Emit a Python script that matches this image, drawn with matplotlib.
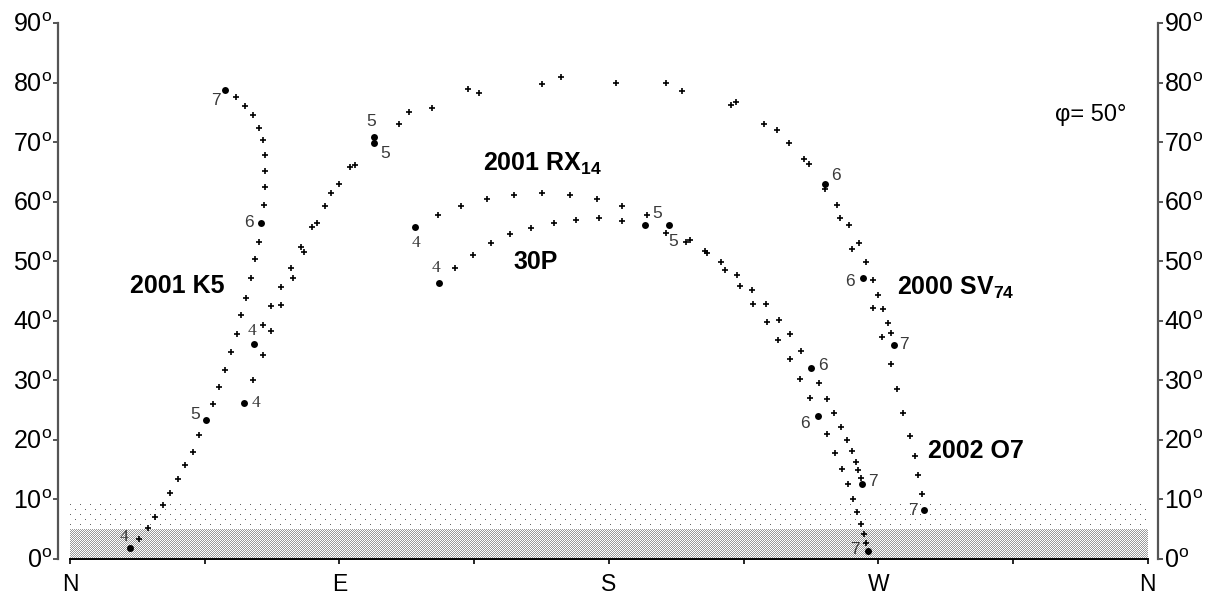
import numpy as np
import matplotlib
matplotlib.use("Agg")
import matplotlib.pyplot as plt

# Comet tracks for latitude 50 deg: azimuth (deg, N=0 through E) and altitude (deg),
# sampled every 6 minutes; the hourly positions are marked with a dot.
HOURS = [4, 5, 6, 7]

K5_AZ = [20.1, 23.1, 26.1, 28.4, 31.1, 33.4, 36.1, 38.5, 41.1, 43.1, 45.5,
         47.8, 49.8, 51.8, 53.8, 55.9, 57.2, 58.9, 60.5, 61.9, 63.2, 63.9,
         64.9, 65.2, 65.2, 65.2, 64.5, 63.2, 61.2, 58.5, 55.5, 51.8]
K5_ALT = [1.8, 3.4, 5.2, 7.1, 9.1, 11.1, 13.4, 15.8, 18.0, 20.8, 23.4,
          26.1, 28.9, 31.8, 34.8, 37.8, 41.0, 43.9, 47.1, 50.3, 53.3, 56.5,
          59.5, 62.4, 65.2, 67.9, 70.3, 72.4, 74.5, 76.1, 77.6, 78.8]
K5_HOUR_IDX = [0, 10, 21, 31]

SV74_AZ = [61.5, 64.5, 67.1, 70.5, 73.8, 77.2, 80.8, 85.2, 89.8, 95.2, 101.5,
           113.2, 132.9, 157.6, 182.4, 204.4, 222.4, 236.1, 245.2, 252.2,
           256.2, 260.2, 263.5, 265.9, 268.2, 269.9, 271.5, 273.2, 274.2, 275.2]
SV74_ALT = [36.1, 39.3, 42.4, 45.7, 48.9, 52.4, 55.8, 59.2, 62.9, 66.2, 70.9,
            75.1, 79.0, 79.8, 80.0, 78.5, 76.7, 72.1, 67.2, 63.0,
            59.5, 56.1, 53.0, 49.8, 46.9, 44.4, 41.9, 39.7, 38.0, 36.0]
SV74_HOUR_IDX = [0, 10, 19, 29]

O7_AZ = [58.1, 61.1, 64.5, 67.1, 70.5, 74.5, 78.2, 82.5, 87.2, 93.5, 101.5,
         109.9, 120.9, 136.6, 164.0, 199.1, 220.8, 231.8, 240.1, 246.8, 252.2,
         257.2, 261.2, 264.9, 268.2, 271.2, 274.2, 276.2, 278.2, 280.6, 282.2,
         283.2, 284.6, 285.2]
O7_ALT = [26.2, 30.1, 34.3, 38.3, 42.7, 47.1, 51.6, 56.5, 61.4, 65.9, 69.9,
          73.0, 75.8, 78.3, 81.0, 80.0, 76.3, 73.1, 69.8, 66.4, 62.2,
          57.2, 52.1, 47.1, 42.2, 37.3, 32.8, 28.6, 24.5, 20.7, 17.3,
          14.1, 10.9, 8.2]
O7_HOUR_IDX = [0, 10, 23, 33]

RX14_AZ = [115.2, 122.9, 130.6, 139.3, 148.3, 157.6, 167.0, 176.0, 184.4, 192.7,
           200.1, 207.1, 212.1, 217.4, 222.8, 227.8, 232.5, 236.8, 240.5, 244.2,
           247.5, 250.2, 252.8, 255.2, 257.5, 259.5, 261.2, 262.5, 263.2, 264.2,
           264.5]
RX14_ALT = [55.8, 57.8, 59.3, 60.5, 61.2, 61.4, 61.2, 60.5, 59.3, 57.8,
            56.0, 53.6, 51.8, 49.9, 47.7, 45.2, 42.9, 40.2, 37.7, 35.0,
            32.1, 29.6, 26.9, 24.5, 22.2, 20.0, 18.2, 16.3, 15.0, 13.6,
            12.6]
RX14_HOUR_IDX = [0, 10, 20, 30]

P30_AZ = [123.2, 128.6, 134.6, 140.6, 147.0, 154.0, 161.7, 169.0, 176.7, 184.4,
          192.1, 199.1, 205.7, 212.8, 218.8, 223.8, 228.1, 232.8, 236.5, 240.5,
          243.8, 247.2, 249.8, 252.8, 255.5, 257.8, 259.8, 261.5, 262.8, 264.2,
          265.2, 265.9, 266.5]
P30_ALT = [46.4, 48.9, 51.1, 53.0, 54.5, 55.6, 56.5, 57.0, 57.2, 56.8,
           56.0, 54.8, 53.3, 51.4, 48.6, 45.9, 42.9, 39.8, 36.7, 33.5,
           30.3, 27.1, 24.0, 21.0, 17.8, 15.1, 12.6, 10.1, 7.9, 5.9,
           4.2, 2.7, 1.3]
P30_HOUR_IDX = [0, 10, 22, 32]

DIRECTIONS = ["N", "E", "S", "W", "N"]
DIRECTION_AZ = [0, 90, 180, 270, 360]
ALT_TICKS = list(range(0, 100, 10))
LATITUDE = 50
HAZE_DENSE_TOP = 5.0
HAZE_LIGHT_TOP = 9.3

# ---------------------------------------------------------------------------
plt.rcParams['font.family'] = ['Liberation Sans', 'DejaVu Sans']
plt.rcParams['mathtext.fontset'] = 'custom'
plt.rcParams['mathtext.rm'] = 'Liberation Sans'
plt.rcParams['mathtext.bf'] = 'Liberation Sans:bold'
plt.rcParams['mathtext.it'] = 'Liberation Sans:italic'

W, H = 1215, 594
fig = plt.figure(figsize=(W / 100, H / 100), dpi=100)
ax = fig.add_axes([58 / W, 35 / H, 1100 / W, 536 / H])
ax.set_xlim(-4.0, 363.4)
ax.set_ylim(0, 90)
ax.patch.set_visible(False)

# horizon haze, stippled pixel by pixel: dense below 5 deg, sparse up to ~9 deg
x0, y0 = ax.transData.transform((0, 0))
x1, y_dense = ax.transData.transform((360, HAZE_DENSE_TOP))
_, y_light = ax.transData.transform((360, HAZE_LIGHT_TOP))
nx = int(round(x1 - x0))
nd = int(round(y_dense - y0))
nl = int(round(y_light - y_dense))

r, c = np.mgrid[0:nd, 0:nx]
dense = np.ones((nd, nx, 3))
dense[(r + c) % 2 == 0] = 0.6
fig.figimage(dense, xo=int(round(x0)), yo=int(round(y0)), origin='upper', zorder=-1)

r, c = np.mgrid[0:nl, 0:nx]
light = np.ones((nl, nx, 3))
mask = (r % 5 == 1) & ((c + 5 * ((r // 5) % 2)) % 10 == 0)
light[mask] = 0.4
fig.figimage(light, xo=int(round(x0)), yo=int(round(y0)) + nd, origin='upper', zorder=-1)

tracks = [
    (K5_AZ, K5_ALT, K5_HOUR_IDX, [(-6, 11), (-11, 5), (-12, 0), (-9, -11)]),
    (SV74_AZ, SV74_ALT, SV74_HOUR_IDX, [(-2, 13), (-2.5, 15), (11, 8), (10.5, 0)]),
    (O7_AZ, O7_ALT, O7_HOUR_IDX, [(12, 0), (11.5, -10.5), (-13, -3.5), (-10.5, 0)]),
    (RX14_AZ, RX14_ALT, RX14_HOUR_IDX, [(1, -16.5), (4, -16.5), (12, 2), (11.5, 2)]),
    (P30_AZ, P30_ALT, P30_HOUR_IDX, [(-3, 15), (12, 12), (-13, -7), (-12.5, 1.5)]),
]

for az, alt, hidx, offsets in tracks:
    az = np.asarray(az)
    alt = np.asarray(alt)
    steps = np.setdiff1d(np.arange(len(az)), hidx)
    ax.plot(az[steps], alt[steps], '+', color='black', ms=4.2, mew=1.2, zorder=3)
    ax.plot(az[hidx], alt[hidx], 'o', color='black', ms=5, mew=0, zorder=4)
    for i, h, (dx, dy) in zip(hidx, HOURS, offsets):
        fam = 'Liberation Serif' if h == HOURS[0] else 'Liberation Sans'
        ax.annotate(str(h), (az[i], alt[i]), xytext=(dx, dy),
                    textcoords='offset pixels', ha='center', va='center',
                    fontsize=12.5, color='#3a3a3a', family=fam, zorder=5)

# comet names
name_kw = dict(fontsize=18, fontweight='bold', color='black', zorder=5)
ax.text(35.9, 45.8, "2001 K5", ha='center', va='center', **name_kw)
ax.text(137.9, 65.1, r"2001 RX$_{\mathbf{14}}$", ha='left', va='baseline', **name_kw)
ax.text(148.0, 48.7, "30P", ha='left', va='baseline', **name_kw)
ax.text(276.2, 44.4, r"2000 SV$_{\mathbf{74}}$", ha='left', va='baseline', **name_kw)
ax.text(286.6, 17.0, "2002 O7", ha='left', va='baseline', **name_kw)
ax.text(329.0, 73.6, "\u03c6= %d\u00b0" % LATITUDE, ha='left', va='baseline',
        fontsize=17, color='black', family=['Liberation Sans', 'DejaVu Sans'], zorder=5)

ax.spines['top'].set_visible(False)
for side in ('left', 'right'):
    ax.spines[side].set_color('#555555')
    ax.spines[side].set_linewidth(1.6)
ax.spines['bottom'].set_bounds(0, 360)
ax.spines['bottom'].set_color('black')
ax.spines['bottom'].set_linewidth(1.4)

ax.set_xticks(DIRECTION_AZ)
ax.set_xticklabels(DIRECTIONS)
ax.set_xticks([45, 135, 225, 315], minor=True)
ax.tick_params(axis='x', which='both', direction='out', length=3.6, width=1.2,
               color='black', labelsize=16.5, pad=6.5)

ax.set_yticks(ALT_TICKS)
ax.set_yticklabels([r"%d$^{\mathrm{o}}$" % v for v in ALT_TICKS])
ax.tick_params(axis='y', which='both', direction='out', length=3.6, width=1.4,
               color='#555555', labelsize=18, pad=0.8,
               left=True, right=True, labelleft=True, labelright=True)

fig.savefig("out.png", dpi=100)
